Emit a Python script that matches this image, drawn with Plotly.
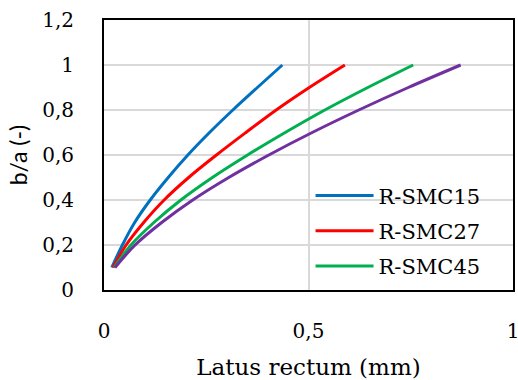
import plotly.graph_objects as go

# b/a levels (y) and latus rectum (x, mm) read for each series
ba = [0.1, 0.2, 0.3, 0.4, 0.5, 0.6, 0.7, 0.8, 0.9, 1.0]
lr_smc15 = [0.019, 0.045, 0.075, 0.113, 0.157, 0.205, 0.258, 0.315, 0.375, 0.436]
lr_smc27 = [0.022, 0.054, 0.097, 0.147, 0.207, 0.275, 0.347, 0.421, 0.502, 0.589]
lr_smc45 = [0.025, 0.066, 0.122, 0.188, 0.265, 0.351, 0.443, 0.540, 0.645, 0.756]
lr_smc4 = [0.027, 0.076, 0.141, 0.217, 0.305, 0.403, 0.509, 0.623, 0.744, 0.872]

names = ["R-SMC15", "R-SMC27", "R-SMC45", "R-SMC60"]
colors = ["#0070C0", "#FF0000", "#00B050", "#7030A0"]
series = [lr_smc15, lr_smc27, lr_smc45, lr_smc4]
show = [True, True, True, False]

x_ticks = [0, 0.5, 1]
x_labels = ["0", "0,5", "1"]
y_ticks = [0, 0.2, 0.4, 0.6, 0.8, 1.0, 1.2]
y_labels = ["0", "0,2", "0,4", "0,6", "0,8", "1", "1,2"]

serif = "DejaVu Serif"

fig = go.Figure()
for n, c, xs, s in zip(names, colors, series, show):
    fig.add_trace(go.Scatter(
        x=xs, y=ba, mode="lines", name=n, showlegend=s, legendgroup=n,
        line=dict(color=c, width=3, shape="spline", smoothing=1.0),
    ))

fig.update_layout(
    width=518, height=380,
    margin=dict(l=104, r=5, t=20, b=90, autoexpand=False),
    paper_bgcolor="white", plot_bgcolor="white",
    font=dict(family=serif, size=20, color="black"),
    legend=dict(
        x=0.505, y=0.425, xanchor="left", yanchor="top",
        bgcolor="rgba(0,0,0,0)", font=dict(family=serif, size=21),
        traceorder="grouped", tracegroupgap=5, itemwidth=58,
    ),
    showlegend=True,
)
fig.update_xaxes(
    range=[0, 1], tickvals=x_ticks, ticktext=x_labels,
    showgrid=True, gridcolor="#d9d9d9", gridwidth=2,
    showline=True, linecolor="black", linewidth=2, mirror=True,
    zeroline=False, ticks="", ticklabelstandoff=22, ticklabeloverflow="allow",
    title=dict(text="Latus rectum (mm)", font=dict(family=serif, size=23), standoff=17),
    automargin=False,
)
fig.update_yaxes(
    range=[0, 1.2], tickvals=y_ticks, ticktext=y_labels,
    showgrid=True, gridcolor="#d9d9d9", gridwidth=2,
    showline=True, linecolor="black", linewidth=2, mirror=True,
    zeroline=False, ticks="", ticklabelstandoff=24,
    title=dict(text="b/a (-)", font=dict(family="Lato", size=23), standoff=8),
    automargin=False,
)

fig.write_html("out.html")
